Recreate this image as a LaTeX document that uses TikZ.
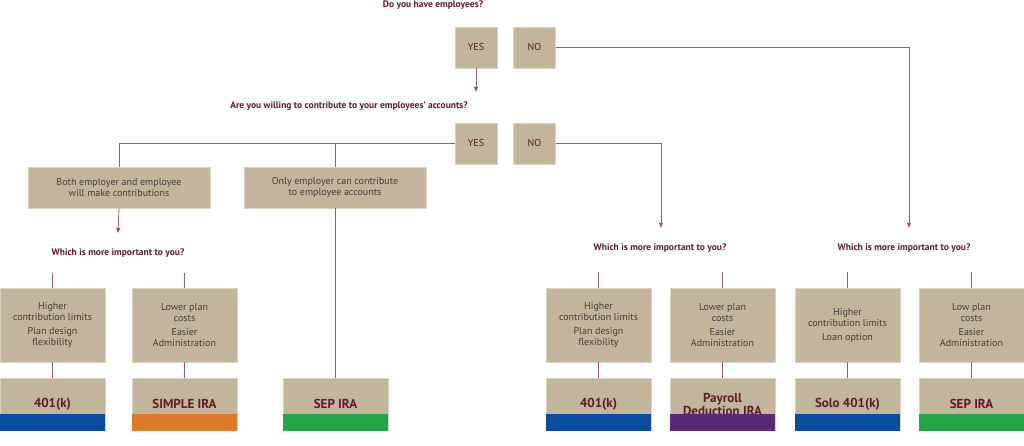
\documentclass[tikz,border=0pt]{standalone}
\usepackage{fontspec}
\setmainfont{PT Sans}
\usetikzlibrary{arrows.meta}
\definecolor{tan}{HTML}{C2B59B}
\definecolor{maroon}{HTML}{5E1A2E}
\definecolor{ln}{HTML}{9C5A6C}
\definecolor{txt}{HTML}{4A3A3A}
\definecolor{cblue}{HTML}{0B4C9E}
\definecolor{corange}{HTML}{DD7A2A}
\definecolor{cgreen}{HTML}{23A648}
\definecolor{cpurple}{HTML}{5A2A74}
\begin{document}
\begin{tikzpicture}[x=1pt,y=-1pt,
  box/.style={fill=tan,draw=tan!60!white,line width=0.6pt,inner sep=0pt,align=center,text=txt,font=\fontsize{10}{11}\selectfont},
  yn/.style={box,minimum width=42pt,minimum height=41pt,text=maroon},
  big/.style={box,minimum width=182pt,minimum height=41pt},
  crit/.style={box,minimum width=105pt,minimum height=74pt},
  prod/.style={box,minimum width=105pt,minimum height=52pt,anchor=north,text=maroon,font=\bfseries\fontsize{13}{13}\selectfont},
  q/.style={text=maroon,font=\bfseries\fontsize{9.5}{10}\selectfont},
  ln/.style={draw=ln,line width=0.8pt},
  arr/.style={ln,-{Triangle[length=5pt,width=4pt]},draw=ln}]
\useasboundingbox (0,0) rectangle (1024,446);
\node[q] (q1) at (433,5) {Do you have employees?};
\node[yn] (y1) at (476,47.5) {YES};
\node[yn] (n1) at (534.5,47.5) {NO};
\node[q] (q2) at (349,106) {Are you willing to contribute to your employees’ accounts?};
\node[yn] (y2) at (476,143.5) {YES};
\node[yn] (n2) at (534.5,143.5) {NO};
\coordinate (a1) at (476,92);
\draw[arr] (y1.south) -- (a1);
\node[big] (both) at (119,187.5) {Both employer and employee\\will make contributions};
\node[big] (only) at (335,187.5) {Only employer can contribute\\to employee accounts};
\draw[ln] (y2.west) -| (both.north);
\draw[ln] (only.north) -- (only.north|-y2.west);
\coordinate (a2) at (118,233);
\draw[arr] (both.south) -- (a2);
\node[q] (w1) at (118,253) {Which is more important to you?};
\node[q] (w2) at (660,248) {Which is more important to you?};
\node[q] (w3) at (904,248) {Which is more important to you?};
\coordinate (a3) at (661,228);
\coordinate (a4) at (909,228);
\draw[arr] (n2.east) -| (a3);
\draw[arr] (n1.east) -| (a4);
% criteria
\node[crit] (c1) at (52.5,325) {Higher\\contribution limits\\[3pt]Plan design\\flexibility};
\node[crit] (c2) at (184.5,325) {Lower plan\\costs\\[3pt]Easier\\Administration};
\node[crit] (c3) at (598.5,325) {Higher\\contribution limits\\[3pt]Plan design\\flexibility};
\node[crit] (c4) at (722.5,325) {Lower plan\\costs\\[3pt]Easier\\Administration};
\node[crit] (c5) at (847.5,325) {Higher\\contribution limits\\[3pt]Loan option};
\node[crit] (c6) at (971.5,325) {Low plan\\costs\\[3pt]Easier\\Administration};
\foreach \c/\y in {c1/273,c2/273,c3/272,c4/272,c5/272,c6/272}{
  \coordinate (t\c) at (\c.north|-0,\y);
  \draw[ln] (t\c) -- (\c.north);}
% products
\foreach \n/\x/\col/\t in {p1/52.5/cblue/401(k),p2/184.5/corange/SIMPLE IRA,p3/335.5/cgreen/SEP IRA,p4/598.5/cblue/401(k),p6/847.5/cblue/Solo 401(k),p7/971.5/cgreen/SEP IRA}{
  \node[prod] (\n) at (\x,378) {\t};
  \fill[\col] (\n.south west) rectangle ([yshift=17pt]\n.south east);}
\node[prod] (p5) at (722.5,378) {Payroll\\Deduction IRA};
\fill[cpurple] (p5.south west) rectangle ([yshift=17pt]p5.south east);
\draw[ln] (c1) -- (p1); \draw[ln] (c2) -- (p2);
\draw[ln] (only.south) -- (only.south|-p3.north);
\draw[ln] (c3) -- (p4); \draw[ln] (c4) -- (p5);
\draw[ln] (c5) -- (p6); \draw[ln] (c6) -- (p7);
\end{tikzpicture}
\end{document}
